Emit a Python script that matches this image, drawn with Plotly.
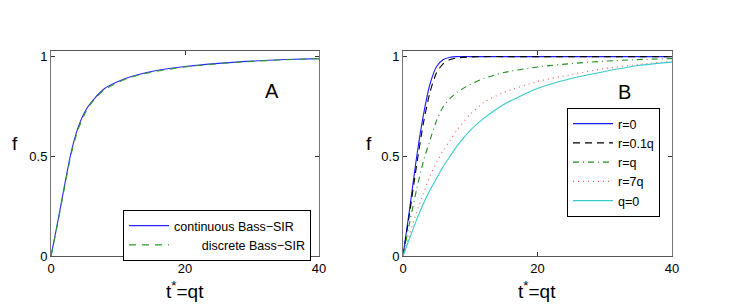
import plotly.graph_objects as go

# ---- data ----
t_A = [0, 1, 2, 3, 4, 5, 6, 8, 10, 12, 15, 20, 25, 30, 35, 40]
f_cont = [0, 0.17, 0.35, 0.52, 0.64, 0.72, 0.77, 0.84, 0.875, 0.90, 0.925, 0.95, 0.966, 0.977, 0.985, 0.99]
f_disc = [0, 0.165, 0.34, 0.51, 0.63, 0.71, 0.765, 0.835, 0.87, 0.897, 0.922, 0.948, 0.964, 0.976, 0.984, 0.99]

t_B = [0, 1, 2, 3, 4, 5, 6, 7, 8, 10, 12, 15, 20, 25, 30, 35, 40]
f_r0 = [0, 0.24, 0.49, 0.70, 0.86, 0.95, 0.985, 0.997, 1, 1, 1, 1, 1, 1, 1, 1, 1]
f_r01 = [0, 0.22, 0.45, 0.66, 0.82, 0.92, 0.965, 0.985, 0.993, 0.998, 1, 1, 1, 1, 1, 1, 1]
f_rq = [0, 0.17, 0.33, 0.47, 0.58, 0.68, 0.75, 0.79, 0.82, 0.86, 0.89, 0.92, 0.948, 0.965, 0.977, 0.985, 0.99]
f_r7q = [0, 0.11, 0.22, 0.31, 0.40, 0.47, 0.53, 0.58, 0.63, 0.71, 0.77, 0.82, 0.875, 0.91, 0.94, 0.96, 0.978]
f_q0 = [0, 0.09, 0.18, 0.26, 0.33, 0.39, 0.45, 0.50, 0.55, 0.63, 0.69, 0.76, 0.84, 0.89, 0.925, 0.955, 0.972]

x_ticks = [0, 20, 40]
y_ticks = [0, 0.5, 1]
y_tick_labels = ["0", "0.5", "1"]

FONT = "Liberation Sans, Arial, sans-serif"
W, H = 749, 307
LEGFONT = 12.5

fig = go.Figure()

def line(x, y, name, color, dash, xa, ya, leg):
    fig.add_trace(go.Scatter(
        x=x, y=y, name=name, mode="lines",
        line=dict(color=color, width=1.1, dash=dash, shape="spline", smoothing=0.7),
        xaxis=xa, yaxis=ya, legend=leg))

line(t_A, f_cont, "continuous Bass\u2212SIR", "#2a2aff", "solid", "x", "y", "legend")
line(t_A, f_disc, "\u00a0\u00a0\u00a0\u00a0\u00a0\u00a0\u00a0\u00a0discrete Bass\u2212SIR", "#2e9a2e", "7px,6px", "x", "y", "legend")

line(t_B, f_r0, "r=0", "#1a1aff", "solid", "x2", "y2", "legend2")
line(t_B, f_r01, "r=0.1q", "#000000", "7px,5px", "x2", "y2", "legend2")
line(t_B, f_rq, "r=q", "#1f8f1f", "6px,4px,1px,4px", "x2", "y2", "legend2")
line(t_B, f_r7q, "r=7q", "#ff5050", "1px,4px", "x2", "y2", "legend2")
line(t_B, f_q0, "q=0", "#38cccc", "solid", "x2", "y2", "legend2")

ydom = [1 - 256 / H, 1 - 51 / H]
axcommon = dict(range=[0, 40], tickvals=x_ticks, ticks="inside", ticklen=4,
                tickcolor="#333", showline=True, linecolor="#555", linewidth=1,
                mirror="ticks", showgrid=False, zeroline=False, automargin=False,
                tickfont=dict(family=FONT, size=13, color="#000"))
aycommon = dict(range=[0, 1.028], tickvals=y_ticks, ticktext=y_tick_labels,
                ticks="inside", ticklen=4, tickcolor="#333", showline=True,
                linecolor="#777", linewidth=1, mirror="ticks", showgrid=False,
                zeroline=False, automargin=False,
                tickfont=dict(family=FONT, size=13, color="#000"))

fig.update_layout(
    width=W, height=H, margin=dict(l=0, r=0, t=0, b=0),
    paper_bgcolor="white", plot_bgcolor="white",
    xaxis=dict(domain=[51 / W, 319 / W], anchor="y", **axcommon),
    yaxis=dict(domain=ydom, anchor="x", **aycommon),
    xaxis2=dict(domain=[403 / W, 672 / W], anchor="y2", **axcommon),
    yaxis2=dict(domain=ydom, anchor="x2", **aycommon),
    legend=dict(x=311 / W, y=1 - 210 / H, xanchor="right", yanchor="top",
                bgcolor="white", bordercolor="#000", borderwidth=1,
                font=dict(family=FONT, size=LEGFONT, color="#000"),
                itemwidth=40, tracegroupgap=0),
    legend2=dict(x=567 / W, y=1 - 108 / H, xanchor="left", yanchor="top",
                 bgcolor="white", bordercolor="#000", borderwidth=1,
                 font=dict(family=FONT, size=LEGFONT, color="#000"),
                 itemwidth=40, tracegroupgap=0),
    showlegend=True,
)

ann = [
    dict(text="f", x=15, y=143, size=19),
    dict(text="f", x=369, y=143, size=19),
    dict(text="t<sup>*</sup>=qt", x=185, y=290, size=19),
    dict(text="t<sup>*</sup>=qt", x=537, y=290, size=19),
    dict(text="A", x=272, y=91, size=20),
    dict(text="B", x=624, y=92, size=20),
]
for a in ann:
    fig.add_annotation(text=a["text"], x=a["x"] / W, y=1 - a["y"] / H,
                       xref="paper", yref="paper", showarrow=False,
                       xanchor="center", yanchor="middle",
                       font=dict(family=FONT, size=a["size"], color="#000"))

fig.write_html("out.html", config={"displayModeBar": False},
               post_script="document.body.style.margin='0';document.body.style.overflow='hidden';")
